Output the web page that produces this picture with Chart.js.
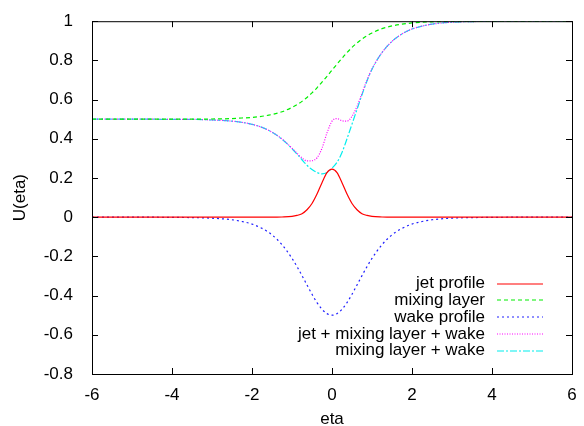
<!DOCTYPE html>
<html>
<head>
<meta charset="utf-8">
<script src="https://cdn.jsdelivr.net/npm/chart.js@4.4.1/dist/chart.umd.min.js"></script>
<style>
  html, body { margin: 0; padding: 0; background: #fff; }
</style>
</head>
<body>
<canvas id="chart-u" width="584" height="426"></canvas>
<script>
// valores
const eta = [-6, -5, -4.5, -4, -3.5, -3, -2.5, -2.25, -2, -1.75, -1.5, -1.25, -1, -0.875, -0.75, -0.625, -0.5, -0.375, -0.25, -0.125,
  0, 0.125, 0.25, 0.375, 0.5, 0.625, 0.75, 0.875, 1, 1.25, 1.5, 1.75, 2, 2.25, 2.5, 3, 3.5, 4, 4.5, 5, 6];

const jetProfile = [0, 0, 0, 0, 0, 0, 0, 0, 0, 0, 0, 0.001, 0.004, 0.009, 0.018, 0.038, 0.070, 0.118, 0.176, 0.227,
  0.245, 0.227, 0.176, 0.118, 0.070, 0.038, 0.018, 0.009, 0.004, 0.001, 0, 0, 0, 0, 0, 0, 0, 0, 0, 0, 0];

const mixingLayer = [0.5, 0.5, 0.5, 0.5, 0.5005, 0.501, 0.503, 0.506, 0.509, 0.515, 0.524, 0.538, 0.560, 0.574, 0.591, 0.611, 0.634, 0.660, 0.689, 0.719,
  0.75, 0.781, 0.811, 0.840, 0.866, 0.889, 0.909, 0.926, 0.940, 0.962, 0.976, 0.985, 0.991, 0.995, 0.997, 0.999, 1, 1, 1, 1, 1];

const wakeProfile = [0, 0, 0, -0.001, -0.002, -0.005, -0.013, -0.022, -0.035, -0.057, -0.090, -0.140, -0.210, -0.252, -0.298, -0.346, -0.393, -0.436, -0.470, -0.492,
  -0.5, -0.492, -0.470, -0.436, -0.393, -0.346, -0.298, -0.252, -0.210, -0.140, -0.090, -0.057, -0.035, -0.022, -0.013, -0.005, -0.002, -0.001, 0, 0, 0];

const jetMixWake = [0.5, 0.5, 0.5, 0.499, 0.499, 0.496, 0.490, 0.484, 0.474, 0.458, 0.434, 0.399, 0.352, 0.326, 0.302, 0.287, 0.288, 0.303, 0.352, 0.430,
  0.490, 0.503, 0.492, 0.490, 0.515, 0.565, 0.632, 0.700, 0.757, 0.840, 0.897, 0.935, 0.960, 0.975, 0.985, 0.995, 0.998, 0.999, 1, 1, 1];

const mixWake = [0.5, 0.5, 0.5, 0.499, 0.499, 0.496, 0.490, 0.484, 0.474, 0.458, 0.434, 0.398, 0.350, 0.322, 0.293, 0.265, 0.243, 0.228, 0.221, 0.228,
  0.250, 0.280, 0.330, 0.400, 0.475, 0.550, 0.625, 0.695, 0.755, 0.840, 0.897, 0.935, 0.960, 0.975, 0.985, 0.995, 0.998, 0.999, 1, 1, 1];

const seriesLabels = ['jet profile', 'mixing layer', 'wake profile', 'jet + mixing layer + wake', 'mixing layer + wake'];

const FONT = "'Liberation Sans', Arial, Helvetica, sans-serif";

function toPoints(ys) {
    return eta.map((x, i) => ({ x: x, y: ys[i] }));
}

// marco tipo gnuplot: caja completa y marcas hacia dentro en los 4 lados
const framePlugin = {
    id: 'frame',
    afterDatasetsDraw(chart) {
        const { ctx, chartArea: a, scales } = chart;
        ctx.save();
        ctx.strokeStyle = '#000';
        ctx.lineWidth = 1;
        ctx.beginPath();
        scales.x.ticks.forEach(t => {
            const px = Math.round(scales.x.getPixelForValue(t.value)) + 0.5;
            ctx.moveTo(px, a.bottom); ctx.lineTo(px, a.bottom - 6);
            ctx.moveTo(px, a.top); ctx.lineTo(px, a.top + 6);
        });
        scales.y.ticks.forEach(t => {
            const py = Math.round(scales.y.getPixelForValue(t.value)) + 0.5;
            ctx.moveTo(a.left, py); ctx.lineTo(a.left + 6, py);
            ctx.moveTo(a.right, py); ctx.lineTo(a.right - 6, py);
        });
        ctx.stroke();
        ctx.strokeRect(a.left + 0.5, a.top + 0.5, a.right - a.left, a.bottom - a.top);
        ctx.restore();
    }
};

// leyenda: texto alineado a la derecha y muestra de linea despues
const keyPlugin = {
    id: 'key',
    afterDraw(chart) {
        const ctx = chart.ctx;
        ctx.save();
        ctx.font = '17px ' + FONT;
        ctx.textAlign = 'right';
        ctx.textBaseline = 'middle';
        chart.data.datasets.forEach((ds, i) => {
            const y = 283.5 + i * 16.8;
            ctx.fillStyle = '#000';
            ctx.fillText(ds.label, 485, y);
            ctx.strokeStyle = ds.borderColor;
            ctx.lineWidth = 1.2;
            ctx.setLineDash(ds.borderDash || []);
            ctx.beginPath();
            ctx.moveTo(497, Math.round(y));
            ctx.lineTo(543, Math.round(y));
            ctx.stroke();
        });
        ctx.restore();
    }
};

const colors = ['#ff0000', '#00ee00', '#2020ff', '#ff00ff', '#00eeee'];
const dashes = [[], [4, 3], [2, 3], [1, 1.5], [7, 2, 2, 2]];
const values = [jetProfile, mixingLayer, wakeProfile, jetMixWake, mixWake];

new Chart(document.getElementById('chart-u'), {
    type: 'line',
    data: {
        datasets: seriesLabels.map((label, i) => ({
            label: label,
            data: toPoints(values[i]),
            borderColor: colors[i],
            borderDash: dashes[i],
            borderWidth: 1.2,
            pointRadius: 0,
            fill: false,
            cubicInterpolationMode: 'monotone',
        })),
    },
    options: {
        responsive: false,
        animation: false,
        layout: { padding: { top: 17, right: 12, left: 0, bottom: 0 } },
        plugins: {
            legend: { display: false },
            tooltip: { enabled: false },
        },
        scales: {
            x: {
                type: 'linear',
                min: -6,
                max: 6,
                ticks: { stepSize: 2, color: '#000', padding: 3, font: { family: FONT, size: 17 } },
                grid: { display: false },
                border: { display: false },
                title: { display: true, text: 'eta', color: '#000', padding: { top: 0, bottom: -4 }, font: { family: FONT, size: 17 } },
                afterFit: s => { s.height = 52; },
            },
            y: {
                min: -0.8,
                max: 1,
                ticks: {
                    stepSize: 0.2,
                    color: '#000',
                    padding: 11,
                    font: { family: FONT, size: 17 },
                    callback: v => String(Math.round(v * 10) / 10),
                },
                grid: { display: false },
                border: { display: false },
                title: { display: true, text: 'U(eta)', color: '#000', padding: { top: 10, bottom: 0 }, font: { family: FONT, size: 17 } },
                afterFit: s => { s.width = 92; },
            },
        },
    },
    plugins: [framePlugin, keyPlugin],
});
</script>
</body>
</html>
